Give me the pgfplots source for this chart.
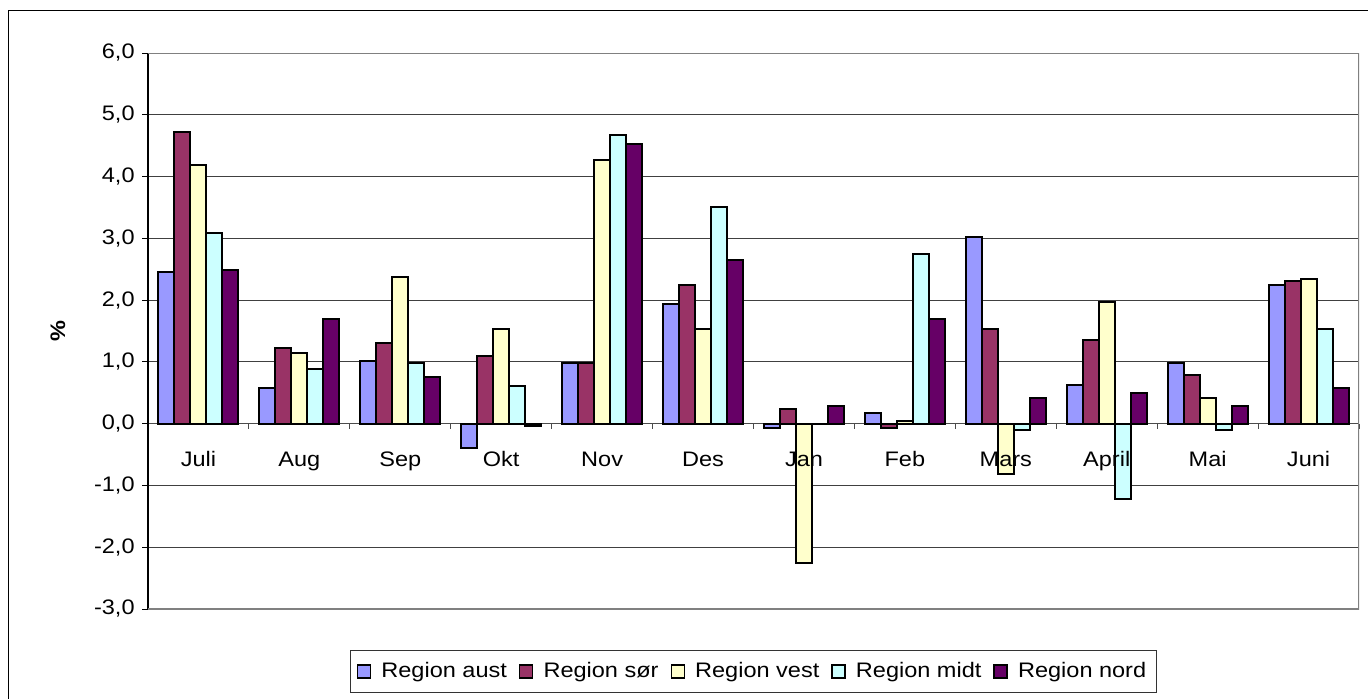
\documentclass[border=0pt]{standalone}
\usepackage{fontspec}
\setmainfont{Liberation Sans}[FakeStretch=1.12]
\usepackage{pgfplots}
\pgfplotsset{compat=1.18}
\usepackage{pgfplotstable}
\definecolor{caust}{HTML}{9999FF}
\definecolor{csor}{HTML}{993366}
\definecolor{cvest}{HTML}{FFFFCC}
\definecolor{cmidt}{HTML}{CCFFFF}
\definecolor{cnord}{HTML}{660066}
\pgfplotsset{
  mygeom/.style={
    at={(74pt,-304.5pt)}, anchor=south west,
    scale only axis, width=605.5pt, height=278pt,
    xmin=-0.5, xmax=11.5, ymin=-3, ymax=6,
    axis y line=left, axis x line=middle,
    axis line style={-},
    hide obscured x ticks=false, hide obscured y ticks=false,
  },
}
\pgfplotstableread{
m aust sor vest midt nord
0 2.45 4.72 4.18 3.09 2.48
1 0.58 1.23 1.15 0.89 1.70
2 1.02 1.30 2.38 0.98 0.75
3 -0.40 1.10 1.53 0.61 -0.03
4 0.98 0.98 4.27 4.68 4.52
5 1.94 2.24 1.53 3.50 2.65
6 -0.07 0.24 -2.26 0.00 0.28
7 0.18 -0.07 0.05 2.75 1.70
8 3.02 1.53 -0.81 -0.10 0.41
9 0.62 1.36 1.97 -1.22 0.49
10 0.99 0.79 0.41 -0.10 0.28
11 2.24 2.31 2.34 1.53 0.58
}\data
\begin{document}
\fontsize{10.5}{12.6}\selectfont
\begin{tikzpicture}
\useasboundingbox (0,0) rectangle (684pt,-349.5pt);
\draw[black,line width=0.5pt] (4pt,-360pt) -- (4pt,-5.5pt) -- (700pt,-5.5pt);
\begin{axis}[
  mygeom,
  x axis line style={black!70, line width=0.6pt},
  y axis line style={black, line width=0.75pt},
  ytick={-3,-2,...,6},
  ymajorgrids, grid style={black!75, line width=0.5pt},
  xtick={0,...,11},
  xticklabels={},
  minor xtick={-0.5,0.5,...,11.5},
  every major x tick/.append style={draw=none},
  every minor x tick/.append style={black!70, line width=0.5pt},
  tick align=outside, major tick length=3pt, minor tick length=2.5pt,
  tick style={black, line width=0.5pt},
  yticklabel={\pgfmathprintnumber[fixed,fixed zerofill,precision=1,use comma,assume math mode=true]{\tick}},
  ylabel={\textbf{\%}},
  every axis y label/.style={at={(axis description cs:0,0.5)}, xshift=-45pt, rotate=90, anchor=center},
  ybar=0pt, bar width=8pt,
  legend columns=5,
  legend style={at={(0.5,-0.1124)}, anchor=center, draw=black!80, line width=0.5pt,
    inner xsep=3pt, inner ysep=4pt,
    /tikz/every even column/.append style={column sep=4pt}},
  legend image code/.code={\draw[#1, line width=0.6pt] (0pt,-3.25pt) rectangle (6.5pt,3.25pt); \path (9.5pt,0pt);},
]
\draw[black!50, line width=0.6pt] (rel axis cs:0,1) -- (rel axis cs:1,1) -- (rel axis cs:1,0) -- (rel axis cs:0,0);
\addplot[fill=caust, draw=black, line width=1pt] table[x=m,y=aust]{\data};
\addplot[fill=csor, draw=black, line width=1pt] table[x=m,y=sor]{\data};
\addplot[fill=cvest, draw=black, line width=1pt] table[x=m,y=vest]{\data};
\addplot[fill=cmidt, draw=black, line width=1pt] table[x=m,y=midt]{\data};
\addplot[fill=cnord, draw=black, line width=1pt] table[x=m,y=nord]{\data};
\legend{Region aust, Region sør, Region vest, Region midt, Region nord}
\end{axis}
\begin{axis}[
  mygeom,
  axis line style={draw=none},
  ytick=\empty,
  xtick={0,...,11},
  xticklabels={Juli,Aug,Sep,Okt,Nov,Des,Jan,Feb,Mars,April,Mai,Juni},
  major tick length=0pt, tick style={draw=none},
  tick align=outside,
  xticklabel style={anchor=base, yshift=-21.5pt},
]
\end{axis}
\end{tikzpicture}
\end{document}
